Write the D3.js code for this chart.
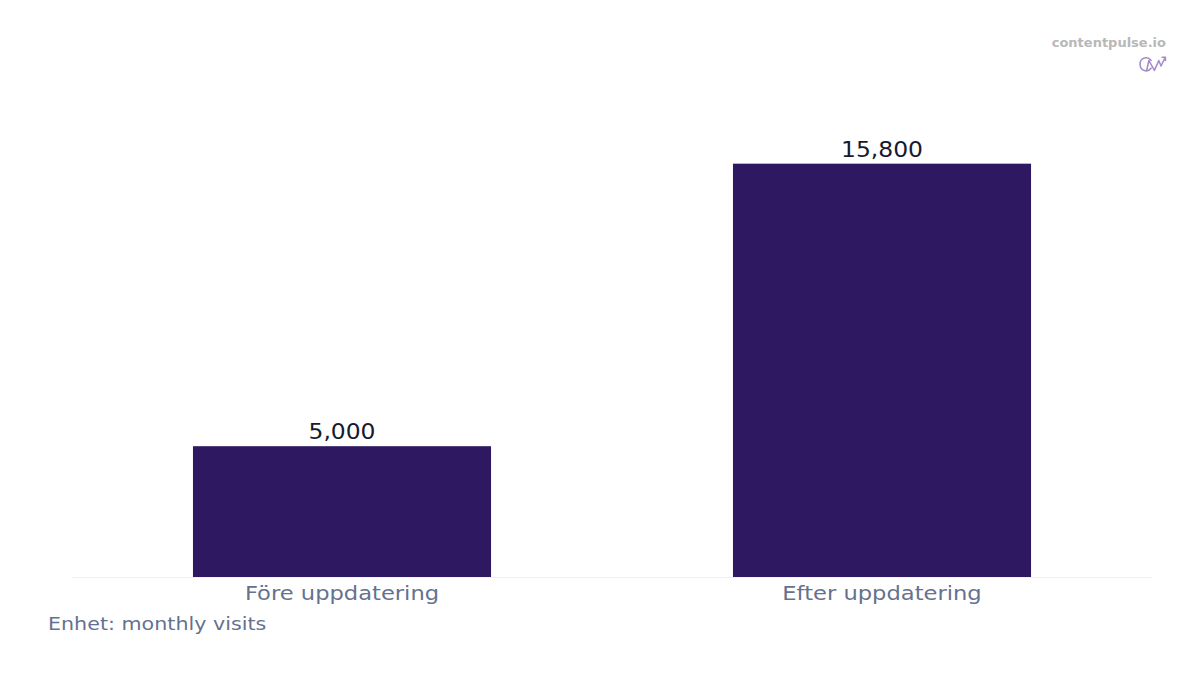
<!DOCTYPE html>
<html>
<head>
<meta charset="utf-8">
<script src="https://cdn.jsdelivr.net/npm/d3@7"></script>
<style>
  body { margin: 0; background: #fff; }
  text { font-family: "DejaVu Sans", sans-serif; }
</style>
</head>
<body>
<div class="chart"></div>
<script>

var categories = ["Före uppdatering", "Efter uppdatering"];
var visits = [5000, 15800];
var unitLabel = "Enhet: monthly visits";
var brand = "contentpulse.io";

var width = 1200;
var height = 675;
var plotLeft = 72, plotRight = 1152, plotBottom = 577, plotTop = 143;

var svg = d3.select('.chart')
    .append('svg')
    .attr('width', width)
    .attr('height', height);

var data = categories.map(function (c, i) {
    return { name: c, value: visits[i] };
});

var scaleX = d3.scaleBand()
    .domain(categories)
    .range([plotLeft, plotRight])
    .paddingInner(0.448)
    .paddingOuter(0.224);

var scaleY = d3.scaleLinear()
    .domain([0, 16590])
    .range([plotBottom, plotTop]);

// baseline
svg.append("line")
    .attr("x1", plotLeft)
    .attr("x2", plotRight)
    .attr("y1", plotBottom + 0.5)
    .attr("y2", plotBottom + 0.5)
    .attr("stroke", "#f0f0f3")
    .attr("stroke-width", 1);

svg.selectAll('rect.bar')
    .data(data)
    .enter()
    .append('rect')
    .attr('class', 'bar')
    .attr("fill", "#2e1862")
    .attr("x", d => scaleX(d.name))
    .attr("y", d => scaleY(d.value))
    .attr("width", scaleX.bandwidth())
    .attr("height", d => plotBottom - scaleY(d.value));

// value labels (text is a bit wide in the original, so stretch it)
svg.selectAll('text.val')
    .data(data)
    .enter()
    .append('text')
    .attr('class', 'val')
    .attr("transform", d => "translate(" + (scaleX(d.name) + scaleX.bandwidth() / 2) + "," + (scaleY(d.value) - 7) + ") scale(1.09,1)")
    .attr("text-anchor", "middle")
    .attr("font-size", 21.5)
    .attr("fill", "#161a30")
    .text(d => d3.format(",")(d.value));

// category axis, no line or ticks
var axisX = d3.axisBottom(scaleX).tickSize(0).tickPadding(0);
var gx = svg.append("g")
    .attr("transform", "translate(0," + plotBottom + ")")
    .call(axisX);
gx.select(".domain").remove();
gx.selectAll("text")
    .attr("dy", "0")
    .attr("y", 23.5)
    .attr("transform", "scale(1.19,1)")
    .attr("font-size", 19)
    .attr("font-family", "DejaVu Sans, sans-serif")
    .attr("fill", "#64718f");

svg.append("text")
    .attr("transform", "translate(48,629.5) scale(1.18,1)")
    .attr("font-size", 17.5)
    .attr("fill", "#64718f")
    .text(unitLabel);

// watermark
svg.append("text")
    .attr("x", 1166)
    .attr("y", 47)
    .attr("text-anchor", "end")
    .attr("font-size", 13)
    .attr("font-weight", "bold")
    .attr("fill", "#b8b8b8")
    .text(brand);

var logo = svg.append("g")
    .attr("transform", "translate(1139,55) scale(1.1)")
    .attr("fill", "none")
    .attr("stroke", "#a58bcb")
    .attr("stroke-width", 1.4)
    .attr("stroke-linecap", "round")
    .attr("stroke-linejoin", "round");
logo.append("path")
    .attr("d", "M11,5 C8,1 1,2 1,8.5 C1,15 8,16 11,12");
logo.append("path")
    .attr("d", "M7,14 L9,5 L14,14 L18,5 L20,10 L24,2 M21,2 L24,2 L24,5");
</script>
</body>
</html>
